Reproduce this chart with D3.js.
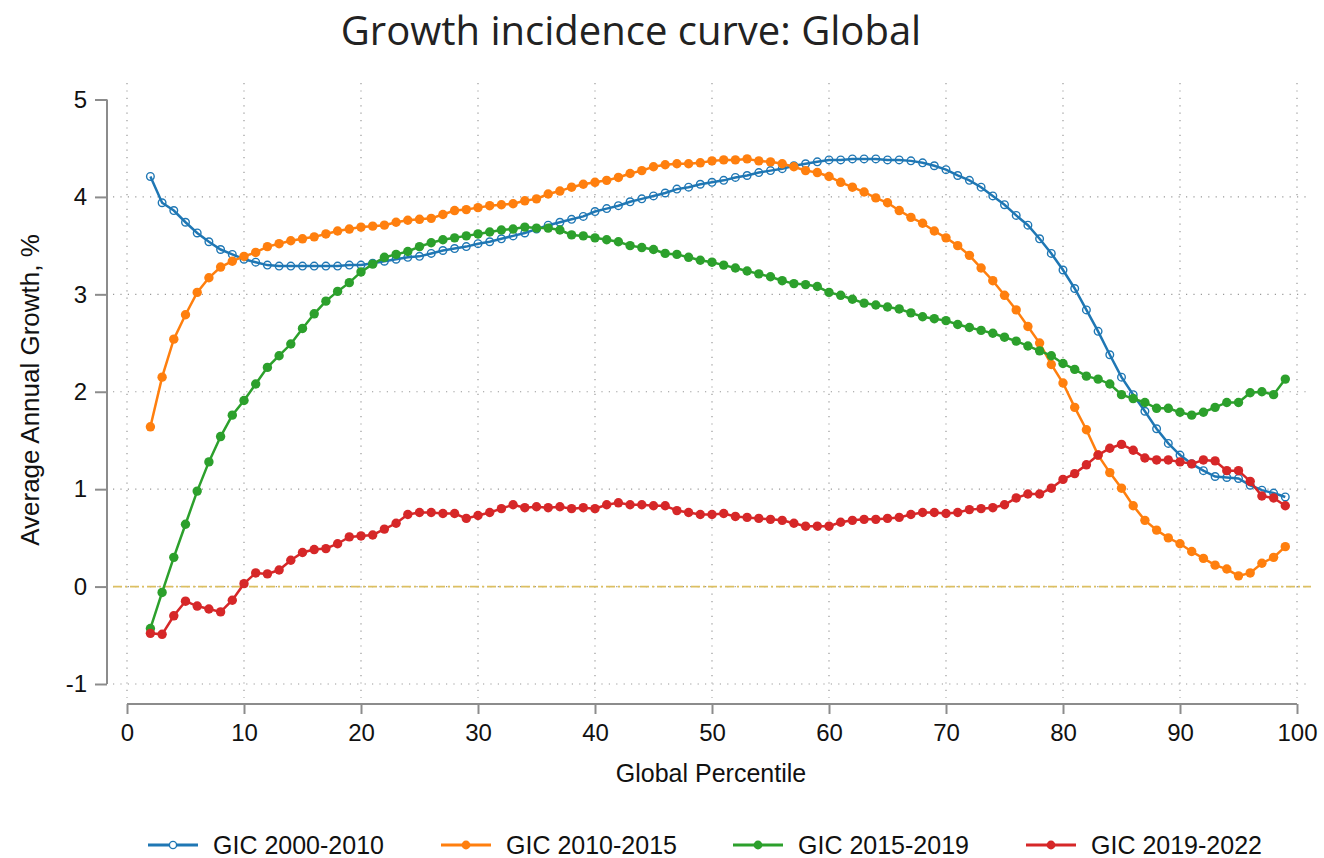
<!DOCTYPE html>
<html>
<head>
<meta charset="utf-8">
<script src="https://cdn.jsdelivr.net/npm/d3@7"></script>
<style>
  body { margin: 0; background: #fff; }
  svg { display: block; }
</style>
</head>
<body>
<script>
// percentiles 2..99
const percentiles = d3.range(2, 100);

const gic2000 = [
  4.21,3.94,3.86,3.74,3.63,3.54,3.46,3.41,3.36,3.33,
  3.30,3.29,3.29,3.29,3.29,3.29,3.29,3.30,3.30,3.32,
  3.34,3.36,3.38,3.39,3.42,3.45,3.47,3.49,3.52,3.54,
  3.57,3.60,3.63,3.67,3.71,3.74,3.77,3.80,3.85,3.88,
  3.91,3.95,3.98,4.01,4.04,4.08,4.10,4.13,4.15,4.17,
  4.20,4.22,4.25,4.27,4.29,4.32,4.34,4.36,4.38,4.38,
  4.39,4.39,4.39,4.38,4.38,4.37,4.35,4.32,4.28,4.22,
  4.17,4.10,4.01,3.92,3.81,3.71,3.57,3.42,3.25,3.06,
  2.84,2.62,2.38,2.15,1.97,1.80,1.62,1.47,1.35,1.26,
  1.19,1.13,1.12,1.11,1.04,0.99,0.96,0.92
];
const gic2010 = [
  1.64,2.15,2.54,2.79,3.02,3.17,3.28,3.34,3.39,3.43,
  3.49,3.52,3.55,3.57,3.59,3.62,3.65,3.67,3.69,3.70,
  3.71,3.74,3.76,3.77,3.78,3.82,3.86,3.87,3.89,3.91,
  3.92,3.93,3.96,3.98,4.03,4.06,4.10,4.13,4.15,4.17,
  4.20,4.24,4.27,4.31,4.33,4.34,4.34,4.35,4.37,4.38,
  4.38,4.39,4.37,4.36,4.34,4.31,4.27,4.25,4.21,4.15,
  4.10,4.05,3.99,3.94,3.86,3.79,3.73,3.65,3.58,3.50,
  3.40,3.27,3.14,2.99,2.84,2.67,2.50,2.28,2.09,1.84,
  1.61,1.35,1.17,1.01,0.83,0.68,0.58,0.50,0.44,0.36,
  0.29,0.22,0.18,0.11,0.14,0.24,0.30,0.41
];
const gic2015 = [
  -0.43,-0.06,0.30,0.64,0.98,1.28,1.54,1.76,1.91,2.08,
  2.25,2.37,2.49,2.65,2.80,2.93,3.03,3.12,3.23,3.31,
  3.38,3.41,3.44,3.49,3.53,3.56,3.58,3.60,3.62,3.64,
  3.66,3.67,3.69,3.68,3.68,3.66,3.61,3.60,3.58,3.56,
  3.54,3.50,3.48,3.46,3.42,3.41,3.38,3.35,3.33,3.30,
  3.27,3.24,3.21,3.18,3.14,3.11,3.10,3.08,3.02,2.99,
  2.95,2.91,2.89,2.87,2.85,2.81,2.77,2.75,2.73,2.69,
  2.66,2.63,2.60,2.56,2.52,2.47,2.42,2.37,2.29,2.23,
  2.16,2.13,2.08,1.97,1.93,1.89,1.83,1.83,1.79,1.76,
  1.79,1.84,1.89,1.89,1.99,2.00,1.97,2.13
];
const gic2019 = [
  -0.48,-0.49,-0.30,-0.15,-0.20,-0.23,-0.26,-0.14,0.03,0.14,
  0.13,0.17,0.27,0.35,0.38,0.39,0.44,0.51,0.52,0.53,
  0.59,0.65,0.74,0.76,0.76,0.75,0.75,0.70,0.73,0.76,
  0.80,0.84,0.81,0.82,0.81,0.82,0.80,0.81,0.80,0.84,
  0.86,0.84,0.84,0.83,0.83,0.78,0.76,0.74,0.74,0.75,
  0.72,0.71,0.70,0.69,0.68,0.65,0.62,0.62,0.62,0.66,
  0.68,0.69,0.69,0.70,0.71,0.74,0.76,0.76,0.75,0.76,
  0.79,0.80,0.81,0.84,0.91,0.95,0.95,1.01,1.10,1.16,
  1.25,1.35,1.42,1.46,1.40,1.32,1.30,1.30,1.28,1.26,
  1.30,1.29,1.19,1.19,1.08,0.93,0.91,0.83
];

const seriesNames = ["GIC 2000-2010", "GIC 2010-2015", "GIC 2015-2019", "GIC 2019-2022"];
const seriesValues = [gic2000, gic2010, gic2015, gic2019];
const seriesColors = ["#1f77b4", "#ff7f0e", "#2ca02c", "#d62728"];
const seriesHollow = [true, false, false, false];
const xTicks = [0, 10, 20, 30, 40, 50, 60, 70, 80, 90, 100];
const yTicks = [-1, 0, 1, 2, 3, 4, 5];

const W = 1324, H = 858;
const font = "'Liberation Sans', Arial, sans-serif";

const svg = d3.select("body").append("svg")
    .attr("width", W)
    .attr("height", H);

svg.append("rect").attr("width", W).attr("height", H).attr("fill", "#fff");

const x = d3.scaleLinear().domain([0, 100]).range([127, 1297]);
const y = d3.scaleLinear().domain([-1, 5]).range([684, 99.5]);

// title
svg.append("text")
    .attr("x", 631)
    .attr("y", 45)
    .attr("text-anchor", "middle")
    .attr("font-family", "'Open Sans', 'Noto Sans', sans-serif")
    .attr("font-size", 40)
    .attr("fill", "#222")
    .text("Growth incidence curve: Global");

// grid
const grid = svg.append("g")
    .attr("stroke", "#999")
    .attr("stroke-width", 1.2)
    .attr("stroke-dasharray", "1.2,6.2");

grid.selectAll("line.gy")
    .data(yTicks.filter(d => d < 5))
    .enter().append("line")
    .attr("x1", 113).attr("x2", 1311)
    .attr("y1", d => y(d)).attr("y2", d => y(d));

grid.selectAll("line.gx")
    .data(xTicks)
    .enter().append("line")
    .attr("x1", d => x(d)).attr("x2", d => x(d))
    .attr("y1", 83).attr("y2", 698);

// zero line
svg.append("line")
    .attr("x1", 113).attr("x2", 1311)
    .attr("y1", y(0)).attr("y2", y(0))
    .attr("stroke", "#dcbf62")
    .attr("stroke-width", 1.8)
    .attr("stroke-dasharray", "9,3,2,3");

// axes
const yAxis = svg.append("g")
    .attr("transform", "translate(107,0)")
    .call(d3.axisLeft(y).tickValues(yTicks).tickFormat(d => String(d))
        .tickSize(12).tickPadding(8).tickSizeOuter(0));

const xAxis = svg.append("g")
    .attr("transform", "translate(0,704)")
    .call(d3.axisBottom(x).tickValues(xTicks).tickFormat(d => String(d))
        .tickSize(10).tickPadding(10).tickSizeOuter(0));

[xAxis, yAxis].forEach(a => {
    a.select(".domain").attr("stroke", "#8c8c8c").attr("stroke-width", 2);
    a.selectAll(".tick line").attr("stroke", "#8c8c8c").attr("stroke-width", 2);
    a.selectAll(".tick text")
        .attr("font-family", font)
        .attr("font-size", 24)
        .attr("fill", "#111");
});
yAxis.select(".domain").attr("d", "M0," + y(5) + "V" + y(-1));
xAxis.select(".domain").attr("d", "M" + x(0) + ",0H" + x(100));

// axis titles
svg.append("text")
    .attr("x", 711)
    .attr("y", 782)
    .attr("text-anchor", "middle")
    .attr("font-family", font)
    .attr("font-size", 25)
    .attr("fill", "#111")
    .text("Global Percentile");

svg.append("text")
    .attr("transform", "translate(39,390) rotate(-90)")
    .attr("text-anchor", "middle")
    .attr("font-family", font)
    .attr("font-size", 26)
    .attr("fill", "#111")
    .text("Average Annual Growth, %");

// series
const line = d3.line()
    .x((d, i) => x(percentiles[i]))
    .y(d => y(d));

seriesValues.forEach((vals, s) => {
    const g = svg.append("g");
    g.append("path")
        .attr("d", line(vals))
        .attr("fill", "none")
        .attr("stroke", seriesColors[s])
        .attr("stroke-width", 2.5);
    g.selectAll("circle")
        .data(vals)
        .enter().append("circle")
        .attr("cx", (d, i) => x(percentiles[i]))
        .attr("cy", d => y(d))
        .attr("r", seriesHollow[s] ? 3.8 : 4.7)
        .attr("fill", seriesHollow[s] ? "none" : seriesColors[s])
        .attr("stroke", seriesColors[s])
        .attr("stroke-width", seriesHollow[s] ? 1.4 : 0);
});

// legend
const legendX = [148, 441, 733, 1026];
const legend = svg.append("g");
seriesNames.forEach((name, s) => {
    const lg = legend.append("g").attr("transform", "translate(" + legendX[s] + ",845)");
    lg.append("line")
        .attr("x1", 0).attr("x2", 50)
        .attr("stroke", seriesColors[s])
        .attr("stroke-width", 3);
    lg.append("circle")
        .attr("cx", 25).attr("r", seriesHollow[s] ? 3.6 : 4.4)
        .attr("fill", seriesHollow[s] ? "#fff" : seriesColors[s])
        .attr("stroke", seriesColors[s])
        .attr("stroke-width", seriesHollow[s] ? 1.4 : 0);
    lg.append("text")
        .attr("x", 65)
        .attr("y", 9)
        .attr("font-family", font)
        .attr("font-size", 25)
        .attr("fill", "#111")
        .text(name);
});
</script>
</body>
</html>
